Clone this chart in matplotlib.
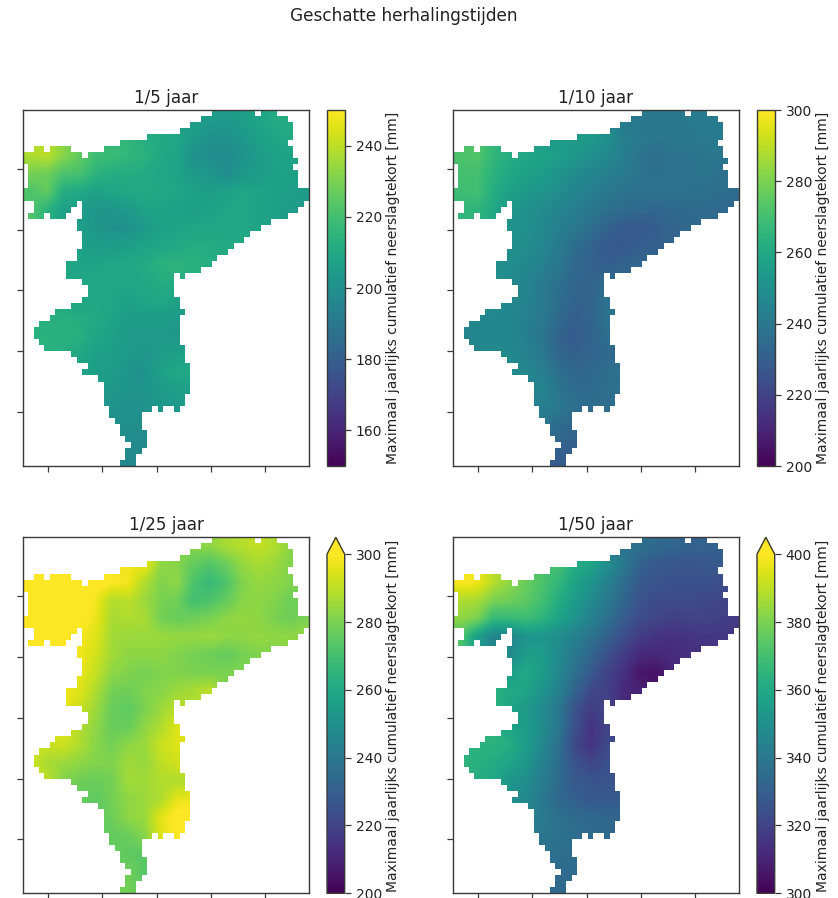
import numpy as np
import matplotlib
matplotlib.use("Agg")
import matplotlib.pyplot as plt
from matplotlib.colors import ListedColormap

W, H = 838, 898
LABEL = "Maximaal jaarlijks cumulatief neerslagtekort [mm]"

# row -> occupied column ranges of the 53 x 59 grid
SPANS = [
 [(35,43),(44,47)],[(33,49)],[(31,50)],[(29,50)],[(23,50)],[(18,49)],
 [(2,4),(5,9),(15,50)],[(0,11),(12,50)],[(0,51)],[(1,50)],[(1,51)],[(1,51)],[(1,51)],
 [(0,53)],[(0,53)],[(2,10),(11,52)],[(2,9),(11,51)],[(1,4),(5,8),(11,49)],
 [(10,46)],[(10,44)],[(11,42)],[(11,41)],[(11,39)],[(10,38)],[(10,36)],[(8,35)],[(8,33)],
 [(8,28),(29,30)],[(11,28)],[(12,28)],[(12,28)],[(11,29)],[(9,29)],[(6,30)],[(5,29)],
 [(3,29)],[(2,29)],[(2,29)],[(3,29)],[(4,30)],[(9,30)],[(10,30)],[(12,31)],[(11,31)],
 [(14,31)],[(15,31)],[(15,31)],[(15,30)],[(15,30)],[(16,24),(25,26),(28,29)],[(16,22)],
 [(17,22)],[(18,22)],[(18,23)],[(19,23)],[(20,23)],[(19,22)],[(19,21)],[(18,21)],
]

# values read per block of 3 x 3 cells, 0 = outside the area
T5 = [
 [0,0,0,0,0,0,0,0,0,0,206,204,204,206,208,211,212,0],
 [0,0,0,0,0,0,216,212,211,209,205,201,200,203,207,209,211,0],
 [238,240,232,226,219,218,216,214,210,208,201,199,198,201,205,207,208,0],
 [229,228,222,221,215,212,212,211,209,208,204,203,199,203,205,207,207,0],
 [222,226,212,210,207,209,210,211,210,209,207,206,207,209,208,207,206,205],
 [223,214,207,205,203,203,204,208,208,207,206,207,209,209,208,207,205,205],
 [0,0,0,206,203,201,201,204,207,208,209,209,209,209,208,207,0,0],
 [0,0,0,207,205,205,206,208,209,210,212,212,211,211,0,0,0,0],
 [0,0,210,208,208,209,210,211,214,215,213,212,0,0,0,0,0,0],
 [0,0,209,209,210,209,209,210,212,212,0,0,0,0,0,0,0,0],
 [0,0,0,209,209,209,207,209,210,208,0,0,0,0,0,0,0,0],
 [0,213,213,212,211,208,205,205,205,204,0,0,0,0,0,0,0,0],
 [214,214,214,213,209,207,204,204,204,203,0,0,0,0,0,0,0,0],
 [0,213,212,210,206,206,204,203,205,207,0,0,0,0,0,0,0,0],
 [0,0,0,208,206,205,202,201,207,210,210,0,0,0,0,0,0,0],
 [0,0,0,0,0,203,202,202,204,206,207,0,0,0,0,0,0,0],
 [0,0,0,0,0,202,201,201,203,203,0,0,0,0,0,0,0,0],
 [0,0,0,0,0,200,200,199,0,0,0,0,0,0,0,0,0,0],
 [0,0,0,0,0,0,198,197,0,0,0,0,0,0,0,0,0,0],
 [0,0,0,0,0,0,197,0,0,0,0,0,0,0,0,0,0,0],
]
T10 = [
 [0,0,0,0,0,0,0,0,0,0,241,240,240,240,241,241,241,0],
 [0,0,0,0,0,0,254,254,255,250,243,241,240,240,240,241,242,0],
 [272,273,266,262,259,258,256,253,250,247,243,238,236,238,238,239,239,0],
 [270,270,264,260,257,255,252,249,245,244,241,238,237,238,238,239,237,0],
 [269,270,262,257,254,252,249,245,243,240,238,238,238,238,237,237,236,235],
 [266,265,260,253,251,248,245,243,240,237,235,234,233,234,235,235,234,234],
 [0,0,0,251,250,247,243,240,236,232,229,228,230,232,234,234,0,0],
 [0,0,0,250,249,246,241,236,232,228,228,230,231,233,0,0,0,0],
 [0,0,250,249,247,244,240,234,231,230,232,233,0,0,0,0,0,0],
 [0,0,250,248,245,241,237,233,232,236,0,0,0,0,0,0,0,0],
 [0,0,0,247,245,241,236,232,232,238,0,0,0,0,0,0,0,0],
 [0,246,246,246,243,240,235,230,232,238,0,0,0,0,0,0,0,0],
 [245,246,246,246,243,239,232,229,232,236,0,0,0,0,0,0,0,0],
 [0,246,248,247,244,240,233,231,232,234,0,0,0,0,0,0,0,0],
 [0,0,0,249,246,243,237,233,234,236,238,0,0,0,0,0,0,0],
 [0,0,0,0,0,245,239,235,235,236,237,0,0,0,0,0,0,0],
 [0,0,0,0,0,243,240,236,235,236,0,0,0,0,0,0,0,0],
 [0,0,0,0,0,238,235,233,0,0,0,0,0,0,0,0,0,0],
 [0,0,0,0,0,0,232,230,0,0,0,0,0,0,0,0,0,0],
 [0,0,0,0,0,0,229,0,0,0,0,0,0,0,0,0,0,0],
]
T25 = [
 [0,0,0,0,0,0,0,0,0,0,282,283,287,289,291,288,283,0],
 [0,0,0,0,0,0,298,298,283,282,276,273,277,284,287,285,281,0],
 [305,305,305,305,302,300,298,288,281,283,272,267,272,281,284,283,281,0],
 [305,305,305,303,298,288,290,285,280,278,270,272,276,282,283,281,278,0],
 [305,305,305,301,297,287,288,287,279,277,278,280,283,284,283,280,278,280],
 [304,303,302,299,295,286,285,285,285,284,284,285,283,283,284,283,283,285],
 [0,0,0,298,293,286,283,283,283,281,279,278,276,279,281,281,0,0],
 [0,0,0,297,291,283,281,279,281,281,280,280,280,281,0,0,0,0],
 [0,0,298,295,288,279,278,281,282,285,287,290,0,0,0,0,0,0],
 [0,0,297,292,285,277,275,280,285,290,0,0,0,0,0,0,0,0],
 [0,0,0,288,283,277,277,283,288,295,0,0,0,0,0,0,0,0],
 [0,292,292,288,282,279,283,285,292,295,0,0,0,0,0,0,0,0],
 [293,287,285,283,281,281,286,284,290,293,0,0,0,0,0,0,0,0],
 [0,290,281,278,277,279,286,286,288,288,0,0,0,0,0,0,0,0],
 [0,0,0,277,275,279,283,285,288,296,298,0,0,0,0,0,0,0],
 [0,0,0,0,0,278,283,285,296,302,303,0,0,0,0,0,0,0],
 [0,0,0,0,0,276,277,282,295,300,0,0,0,0,0,0,0,0],
 [0,0,0,0,0,276,275,274,0,0,0,0,0,0,0,0,0,0],
 [0,0,0,0,0,0,278,274,0,0,0,0,0,0,0,0,0,0],
 [0,0,0,0,0,0,279,0,0,0,0,0,0,0,0,0,0,0],
]
T50 = [
 [0,0,0,0,0,0,0,0,0,0,338,337,334,333,332,332,331,0],
 [0,0,0,0,0,0,371,362,358,350,340,332,328,327,326,327,328,0],
 [399,398,389,383,377,372,366,358,352,344,336,328,326,325,325,325,324,0],
 [388,387,380,378,375,370,362,355,348,341,333,326,323,323,323,322,321,0],
 [383,380,367,367,369,365,358,351,344,337,329,323,321,319,320,320,319,317],
 [372,356,345,345,352,352,349,344,338,331,324,318,315,314,315,316,316,315],
 [0,0,0,348,356,355,348,340,333,325,318,312,311,313,314,314,0,0],
 [0,0,0,355,360,355,347,337,328,320,314,306,305,310,0,0,0,0],
 [0,0,363,361,358,352,344,332,322,319,312,310,0,0,0,0,0,0],
 [0,0,365,358,354,348,340,326,318,322,0,0,0,0,0,0,0,0],
 [0,0,0,358,355,349,340,325,315,320,0,0,0,0,0,0,0,0],
 [0,364,364,362,355,347,337,322,315,322,0,0,0,0,0,0,0,0],
 [366,363,361,358,353,344,336,326,321,325,0,0,0,0,0,0,0,0],
 [0,362,360,353,349,342,335,328,326,326,0,0,0,0,0,0,0,0],
 [0,0,0,350,347,340,334,331,328,328,329,0,0,0,0,0,0,0],
 [0,0,0,0,0,341,337,335,334,333,332,0,0,0,0,0,0,0],
 [0,0,0,0,0,339,338,336,335,335,0,0,0,0,0,0,0,0],
 [0,0,0,0,0,338,336,335,0,0,0,0,0,0,0,0,0,0],
 [0,0,0,0,0,0,335,335,0,0,0,0,0,0,0,0,0,0],
 [0,0,0,0,0,0,334,0,0,0,0,0,0,0,0,0,0,0],
]

TITLES = ["1/5 jaar", "1/10 jaar", "1/25 jaar", "1/50 jaar"]
TABLES = [T5, T10, T25, T50]
VMIN = [150, 200, 200, 300]
VMAX = [250, 300, 300, 400]
TICKS = [[160,180,200,220,240], [200,220,240,260,280,300],
         [200,220,240,260,280,300], [300,320,340,360,380,400]]
EXTEND = ["neither", "neither", "max", "max"]
XT = [4.69, 14.73, 24.78, 34.83, 44.9]
YT = [9.78, 19.89, 29.89, 40.0, 50.07]

AX_BOX = [(22.7,110,309.3,466), (452.7,110,739.3,466),
          (22.7,537.3,309.3,893.3), (452.7,537.3,739.3,893.3)]
CB_BOX = [(327,110,344.7,466), (757,110,774.7,466),
          (327,537.3,344.7,893.3), (757,537.3,774.7,893.3)]
LABEL_Y = [0.5, 0.5, 0.524, 0.524]
EDGE = "#3a3a3a"
TXT = "#222222"

def rect(b):
    return [b[0]/W, 1-b[3]/H, (b[2]-b[0])/W, (b[3]-b[1])/H]

def filled(tab):
    # cells outside the area are hidden; give them the nearest read value
    a = np.array(tab, float)
    ii, jj = np.nonzero(a)
    out = a.copy()
    for i, j in zip(*np.nonzero(a == 0)):
        n = np.argmin((ii-i)**2 + (jj-j)**2)
        out[i, j] = a[ii[n], jj[n]]
    return out

outside = np.ones((59, 53), bool)
for r, spans in enumerate(SPANS):
    for a, b in spans:
        outside[r, a:b] = False
cover = np.ma.array(np.ones_like(outside, float), mask=~outside)

fig = plt.figure(figsize=(W/100, H/100), dpi=100)
fig.suptitle("Geschatte herhalingstijden", x=403.5/W, y=1-16/H, va="center",
             fontsize=12.2, color=TXT)
for k in range(4):
    ax = fig.add_axes(rect(AX_BOX[k]))
    im = ax.imshow(filled(TABLES[k]), cmap="viridis", vmin=VMIN[k], vmax=VMAX[k],
                   extent=(0, 54, 60, 0), aspect="auto", interpolation="bilinear",
                   interpolation_stage="data")
    ax.pcolormesh(np.arange(54), np.arange(60), cover,
                  cmap=ListedColormap(["white"]), shading="flat")
    ax.set_xlim(0, 53); ax.set_ylim(59, 0)
    ax.set_xticks(XT); ax.set_yticks(YT)
    ax.set_xticklabels([]); ax.set_yticklabels([])
    ax.tick_params(length=4, width=0.9, color=EDGE)
    for s in ax.spines.values():
        s.set_color(EDGE); s.set_linewidth(1.0)
    ax.set_title(TITLES[k], fontsize=12.1, pad=5, color=TXT)
    cax = fig.add_axes(rect(CB_BOX[k]))
    cb = fig.colorbar(im, cax=cax, extend=EXTEND[k], ticks=TICKS[k])
    cb.ax.tick_params(labelsize=10, length=4.3, width=0.9, pad=3.5, color=EDGE, labelcolor=TXT)
    cb.outline.set_edgecolor(EDGE); cb.outline.set_linewidth(1.0)
    cb.set_label(LABEL, fontsize=10, labelpad=3, color=TXT)
    cb.ax.yaxis.label.set_y(LABEL_Y[k])
fig.savefig("out.png", dpi=100)
